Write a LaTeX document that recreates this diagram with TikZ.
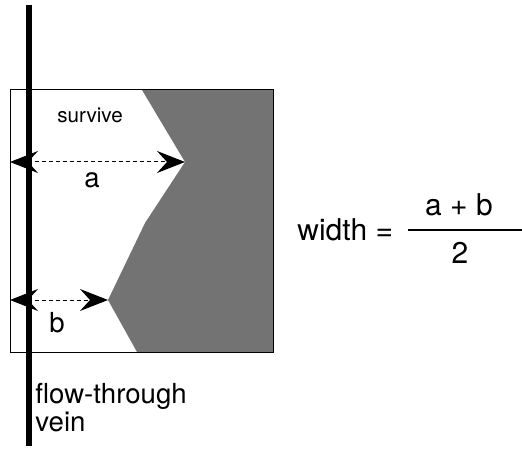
\documentclass[tikz,border=0pt]{standalone}
\usepackage{fontspec}
\setmainfont{TeX Gyre Heros}
\usetikzlibrary{arrows.meta,positioning}

\begin{document}
\begin{tikzpicture}[x=0.5pt, y=-0.5pt,
    txt/.style={inner sep=0pt, font=\fontsize{13.8}{11.5}\selectfont},
    eqtxt/.style={inner sep=0pt, font=\fontsize{15}{18}\selectfont},
    dim/.style={{Stealth[length=14pt,width=11pt,inset=5pt]}-{Stealth[length=14pt,width=11pt,inset=5pt]}, dash pattern=on 2pt off 1.5pt, line width=0.5pt}
]
\useasboundingbox (0,0) rectangle (522,448);

% tissue flap and dead zone
\coordinate (nw) at (10,90);
\coordinate (se) at (273,352);
\coordinate (tipa) at (185,162);
\coordinate (tipb) at (108,300);
\fill[black!55] (142,90) -- (tipa) -- (145,223) -- (tipb) -- (137,352) -- (se) -- (273,90) -- cycle;
\draw[line width=0.5pt] (nw) rectangle (se);

% widths
\coordinate (edgea) at (10,162);
\coordinate (edgeb) at (10,300);
\draw[dim] (edgea) -- (tipa);
\draw[dim] (edgeb) -- (tipb);

\node[txt, font=\fontsize{10.3}{12}\selectfont, anchor=base] (surv) at (90,123) {survive};
\node[txt, anchor=base] (la) at (92,188) {a};
\node[txt, anchor=base] (lb) at (57,332) {b};

% vein
\coordinate (vtop) at (29,5);
\coordinate (vbot) at (29,446);
\draw[line width=2.7pt] (vtop) -- (vbot);
\node[txt, anchor=base west, align=left] (vein) at (35,431) {flow-through\\vein};

% formula
\node[eqtxt, anchor=base west] (lhs) at (297,240) {width =};
\node[eqtxt, anchor=base] (num) at (459,215) {a + b};
\node[eqtxt, anchor=base] (den) at (460,263) {2};
\coordinate (barl) at (408,230);
\coordinate (barr) at (522,230);
\draw[line width=1pt] (barl) -- (barr);
\end{tikzpicture}
\end{document}
